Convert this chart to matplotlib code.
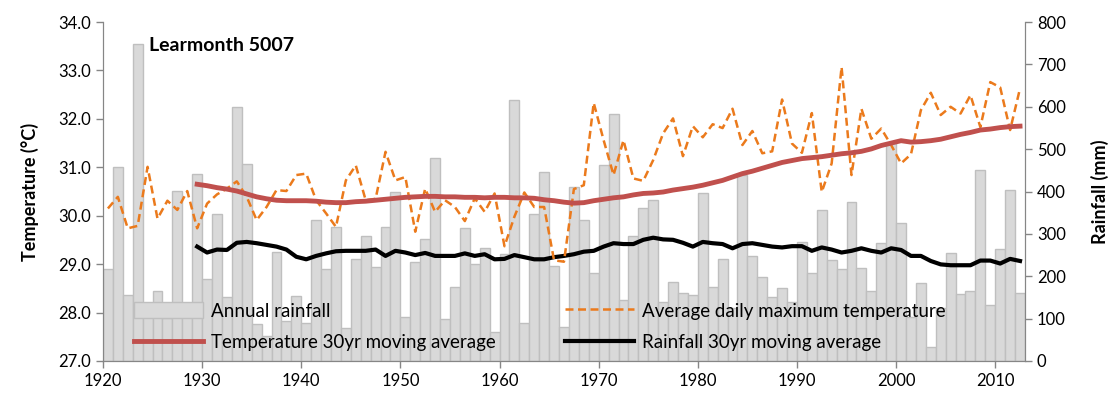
import numpy as np
import matplotlib
matplotlib.use("Agg")
import matplotlib.pyplot as plt

plt.rcParams['font.family'] = ['Lato', 'DejaVu Sans']

# annual data 1920-2012
years = np.arange(1920, 2013)
rain = [218, 457, 155, 749, 125, 166, 102, 402, 120, 441,
        194, 346, 151, 600, 466, 87, 60, 258, 94, 154,
        89, 333, 216, 317, 77, 240, 296, 222, 317, 399,
        104, 234, 289, 478, 99, 175, 313, 228, 266, 68,
        252, 616, 89, 348, 446, 225, 80, 410, 333, 208,
        462, 584, 144, 296, 360, 381, 140, 187, 161, 155,
        397, 174, 241, 125, 439, 248, 199, 150, 173, 140,
        280, 208, 356, 238, 216, 375, 220, 165, 278, 515,
        326, 103, 185, 34, 125, 255, 157, 165, 450, 133,
        265, 403, 161]
temp = [30.15, 30.39, 29.74, 29.79, 31.01, 29.94, 30.31, 30.12, 30.51, 29.74,
        30.25, 30.44, 30.56, 30.71, 30.39, 29.91, 30.18, 30.53, 30.51, 30.84,
        30.87, 30.32, 30.05, 29.77, 30.73, 31.04, 30.32, 30.35, 31.32, 30.73,
        30.80, 29.67, 30.56, 30.08, 30.32, 30.18, 29.89, 30.36, 30.08, 30.46,
        29.37, 29.98, 30.48, 30.18, 30.18, 29.08, 29.05, 30.55, 30.63, 32.33,
        31.56, 30.84, 31.56, 30.77, 30.72, 31.15, 31.70, 32.01, 31.23, 31.85,
        31.62, 31.89, 31.81, 32.21, 31.46, 31.75, 31.29, 31.33, 32.40, 31.49,
        31.30, 32.12, 30.49, 31.08, 33.07, 30.84, 32.21, 31.59, 31.80, 31.46,
        31.08, 31.27, 32.18, 32.54, 32.08, 32.25, 32.11, 32.49, 31.83, 32.76,
        32.65, 31.77, 32.63]

# 30yr moving averages 1929-2012
ma_years = np.arange(1929, 2013)
temp_ma = [30.65,
           30.62, 30.58, 30.55, 30.51, 30.45, 30.39, 30.35, 30.32, 30.31, 30.31,
           30.31, 30.30, 30.28, 30.27, 30.27, 30.29, 30.30, 30.32, 30.34, 30.36,
           30.38, 30.39, 30.40, 30.40, 30.39, 30.39, 30.38, 30.38, 30.37, 30.38,
           30.38, 30.37, 30.37, 30.36, 30.33, 30.31, 30.28, 30.26, 30.27, 30.31,
           30.34, 30.37, 30.39, 30.43, 30.46, 30.47, 30.49, 30.53, 30.56, 30.59,
           30.63, 30.68, 30.73, 30.80, 30.87, 30.92, 30.98, 31.04, 31.10, 31.14,
           31.18, 31.20, 31.22, 31.25, 31.28, 31.30, 31.33, 31.38, 31.45, 31.50,
           31.55, 31.52, 31.53, 31.55, 31.58, 31.63, 31.68, 31.72, 31.77, 31.79,
           31.82, 31.84, 31.85]
rain_ma = [270,
           256, 263, 262, 279, 281, 278, 274, 270, 263, 246,
           240, 248, 254, 259, 260, 260, 260, 263, 248, 260,
           256, 250, 255, 248, 248, 248, 254, 248, 252, 240,
           241, 250, 245, 240, 240, 245, 248, 252, 258, 260,
           270, 278, 276, 276, 286, 291, 287, 286, 279, 270,
           281, 278, 276, 266, 276, 278, 274, 270, 268, 271,
           271, 260, 268, 263, 256, 260, 266, 260, 256, 266,
           262, 248, 248, 236, 228, 226, 226, 226, 237, 237,
           230, 241, 236]

fig = plt.figure(figsize=(11.18, 4.01), dpi=100)
ax = fig.add_axes([0.0921, 0.0998, 0.8247, 0.8452])   # rainfall axis (right)
ax.bar(years + 0.5, rain, width=1.0, color='#d9d9d9', edgecolor='#bfbfbf', linewidth=1,
       label='Annual rainfall', zorder=1)
l_rma, = ax.plot(ma_years + 0.5, rain_ma, color='black', lw=3,
                 label='Rainfall 30yr moving average', zorder=3)
ax.set_ylim(0, 800)
ax.set_yticks(range(0, 801, 100))
ax.set_xlim(1920, 2013)
ax.set_xticks(range(1920, 2011, 10))

axt = ax.twinx()   # temperature axis (left)
l_t, = axt.plot(years + 0.5, temp, color='#EB7A1C', lw=1.8, ls='--', dashes=(3.2, 1.8),
                label='Average daily maximum temperature')
l_tma, = axt.plot(ma_years + 0.5, temp_ma, color='#C0504D', lw=3.5,
                  label='Temperature 30yr moving average')
axt.set_ylim(27, 34)
axt.set_yticks(np.arange(27, 34.01, 1))
axt.set_yticklabels(['%.1f' % v for v in np.arange(27, 34.01, 1)])

# swap sides: temperature on the left, rainfall on the right
axt.yaxis.tick_left()
axt.yaxis.set_label_position('left')
ax.yaxis.tick_right()
ax.yaxis.set_label_position('right')
axt.set_ylabel('Temperature (°C)', fontsize=13, fontweight='bold', labelpad=14)
ax.set_ylabel('Rainfall (mm)', fontsize=13, fontweight='bold', labelpad=18)

for a in (ax, axt):
    a.spines['top'].set_visible(False)
    for s in ('left', 'right', 'bottom'):
        a.spines[s].set_color('#868686')
    a.tick_params(colors='#868686', labelcolor='black', labelsize=12, length=5, width=1)

axt.text(0.05, 0.93, 'Learmonth 5007', transform=axt.transAxes,
         fontsize=14, fontweight='bold', va='center')

bars = ax.containers[0]
leg = axt.legend([bars, l_tma, l_t, l_rma],
                 ['Annual rainfall', 'Temperature 30yr moving average',
                  'Average daily maximum temperature', 'Rainfall 30yr moving average'],
                 ncol=2, frameon=False, fontsize=13.5, loc='lower left',
                 bbox_to_anchor=(0.015, -0.02), handlelength=3.7, handleheight=0.9,
                 columnspacing=3.7, labelspacing=0.75, handletextpad=0.4)

fig.savefig('out.png', dpi=100)
